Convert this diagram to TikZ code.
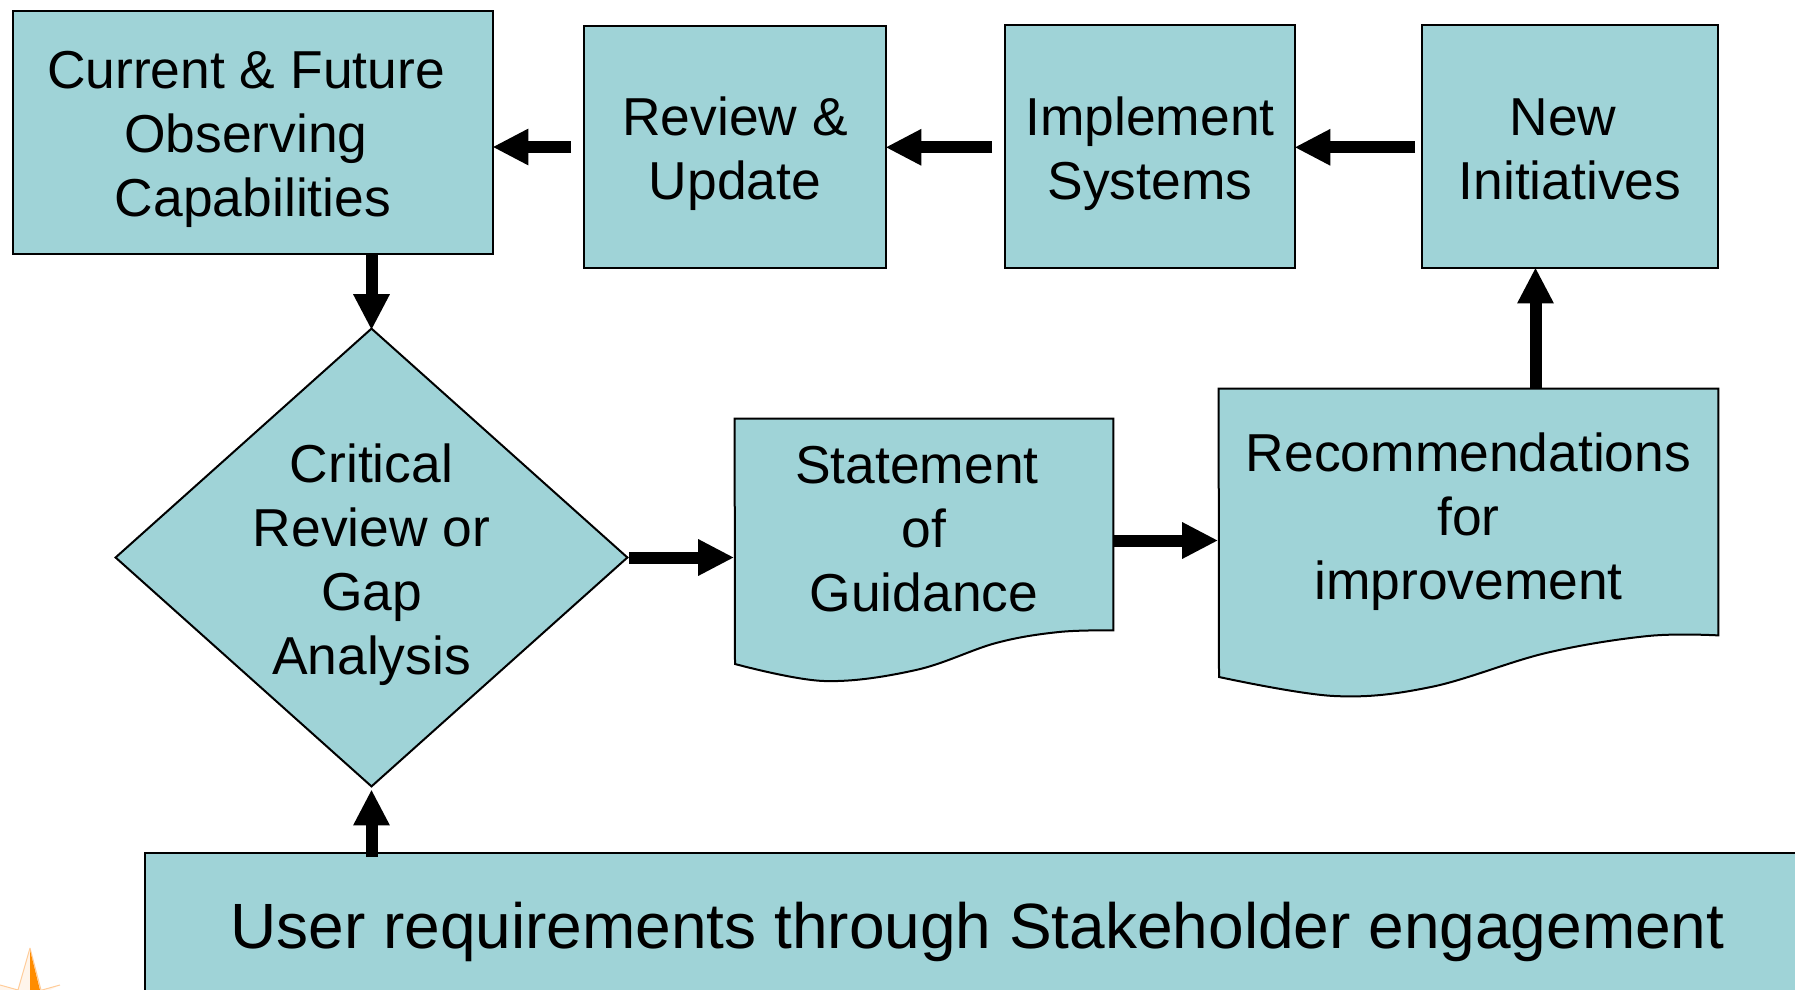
\documentclass[tikz,border=0pt]{standalone}
\usepackage{fontspec}
\setmainfont{Liberation Sans}
\usetikzlibrary{arrows.meta,backgrounds}
\definecolor{boxteal}{HTML}{9FD3D7}
\newcommand{\lowerby}[1]{\rule{0pt}{#1pt}}
\newcommand{\pushleft}{\rule{7pt}{0pt}}
\tikzset{
  x=0.5pt,y=-0.5pt,
  flowbox/.style={draw=black,fill=boxteal,line width=1pt,rectangle,inner sep=0pt,align=center,font=\fontsize{26.7}{32}\selectfont},
  doclabel/.style={rectangle,inner sep=0pt,align=center,font=\fontsize{26.7}{32}\selectfont},
  docshape/.style={draw=black,fill=boxteal,line width=1pt},
  blockarrow/.style={line width=6pt,-{Triangle[length=18pt,width=17pt]},black,shorten >=-0.8pt},
}
\begin{document}
\begin{tikzpicture}
\useasboundingbox (0,0) rectangle (1795,990);
\clip (0,0) rectangle (1795,990);
% star
\fill[orange!8] (30,948) -- (41,990) -- (18,990) -- cycle;
\fill[orange!8] (0,985) -- (18,990) -- (0,990) -- cycle;
\fill[orange!8] (60,985) -- (41,990) -- (50,990) -- cycle;
\draw[orange!40,line width=0.5pt] (30,948) -- (41,990) (60,985) -- (42,990) (30,948) -- (18,990) (0,985) -- (18,990);
\fill[orange!90!yellow] (30,950) -- (40,990) -- (30,990) -- cycle;
% boxes
\node[flowbox,minimum width=240pt,minimum height=121.5pt] (cap) at (253,132.5) {\lowerby{25.2}Current \& Future\pushleft\\Observing\pushleft\\Capabilities};
\node[flowbox,minimum width=151pt,minimum height=121pt] (rev) at (735,147) {\lowerby{26.5}Review \&\\Update};
\node[flowbox,minimum width=145pt,minimum height=121.5pt] (imp) at (1150,146.5) {\lowerby{26.5}Implement\\Systems};
\node[flowbox,minimum width=148pt,minimum height=121.5pt] (new) at (1570,146.5) {\lowerby{21}New\pushleft\\Initiatives};
\node[doclabel,minimum width=255.5pt,minimum height=228.5pt] (gap) at (371.5,557.5) {\lowerby{26.5}Critical\\Review or\\Gap\\Analysis};
\node[doclabel,minimum width=189pt,minimum height=105.5pt] (doc1) at (924,524.5) {\lowerby{23}Statement\pushleft\\of\\Guidance};
\node[doclabel,minimum width=249.5pt,minimum height=123pt] (doc2) at (1468.5,512) {\lowerby{29}Recommendations\\for\\improvement};
\begin{scope}[on background layer]
\draw[docshape] (gap.north) -- (gap.east) -- (gap.south) -- (gap.west) -- cycle;
\draw[docshape] (doc1.north west) -- (doc1.north east) -- plot[smooth,tension=0.6] coordinates {(doc1.south east) (1059,632) (996,643) (916,670) (824,681) (735,664)} -- cycle;
\draw[docshape] (doc2.north west) -- (doc2.north east) -- plot[smooth,tension=0.6] coordinates {(doc2.south east) (1648,636) (1546,653) (1431,687) (1334,696) (1219,677)} -- cycle;
\end{scope}
\node[flowbox,minimum width=832.5pt,minimum height=72pt,font=\fontsize{32}{38}\selectfont] (user) at (977.5,925) {\lowerby{30}User requirements through Stakeholder engagement};
% connectors
\draw[blockarrow] ([xshift=-6pt]rev.west) -- (cap.east |- rev.west);
\draw[blockarrow] ([xshift=-6pt,yshift=-0.4pt]imp.west) -- ([yshift=-0.4pt]rev.east |- imp.west);
\draw[blockarrow] ([xshift=-3pt,yshift=-0.4pt]new.west) -- ([yshift=-0.4pt]imp.east |- new.west);
\coordinate (capout) at (371.5,254);
\draw[blockarrow] (capout) -- (gap.north);
\coordinate (userout) at (371.5,857);
\draw[blockarrow,shorten >=1.5pt] (userout) -- (gap.south);
\draw[blockarrow,shorten >=0.2pt] ([xshift=1pt]gap.east) -- (doc1.west |- gap.east);
\coordinate (doc1out) at (1113,540.5);
\draw[blockarrow,shorten >=0.2pt] (doc1out) -- (doc2.west |- doc1out);
\coordinate (doc2out) at (1535.5,389);
\draw[blockarrow] (doc2out) -- (doc2out |- new.south);
\end{tikzpicture}
\end{document}
